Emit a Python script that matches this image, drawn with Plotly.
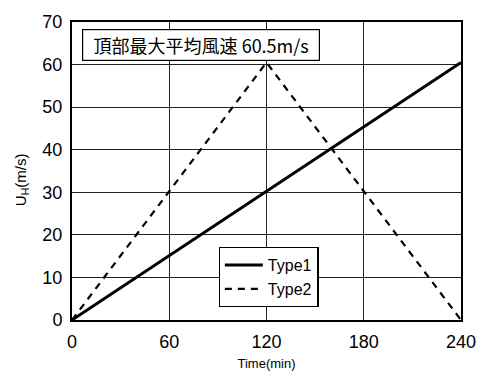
import plotly.graph_objects as go

# Wind speed histories at the top of the building
time_min = [0, 60, 120, 180, 240]
type1_speed = [0, 15.125, 30.25, 45.375, 60.5]
type2_speed = [0, 30.25, 60.5, 30.25, 0]

x_ticks = [0, 60, 120, 180, 240]
y_ticks = [0, 10, 20, 30, 40, 50, 60, 70]

FONT = "Liberation Sans"

fig = go.Figure()
fig.add_trace(go.Scatter(
    x=time_min, y=type1_speed, mode="lines", name="Type1",
    line=dict(color="black", width=3),
))
fig.add_trace(go.Scatter(
    x=time_min, y=type2_speed, mode="lines", name="Type2",
    line=dict(color="black", width=2.2, dash="7px,6px"),
))

fig.update_layout(
    width=488, height=381,
    margin=dict(l=72, r=27, t=17, b=55),
    paper_bgcolor="white", plot_bgcolor="white",
    font=dict(family=FONT, color="black"),
    showlegend=True,
    legend=dict(
        x=0.377, y=0.245, xanchor="left", yanchor="top",
        bgcolor="white", bordercolor="black", borderwidth=1.2,
        font=dict(size=16, family=FONT),
        tracegroupgap=0, itemwidth=38,
    ),
    xaxis=dict(
        range=[0, 240], tickvals=x_ticks, ticks="",
        showgrid=True, gridcolor="#222", gridwidth=1,
        showline=True, linecolor="black", linewidth=2, mirror=True,
        tickfont=dict(size=18), ticklabelstandoff=4,
        zeroline=False,
        title=dict(text="Time(min)", font=dict(size=13), standoff=8),
    ),
    yaxis=dict(
        range=[0, 70], tickvals=y_ticks, ticks="",
        showgrid=True, gridcolor="#222", gridwidth=1,
        showline=True, linecolor="black", linewidth=2, mirror=True,
        tickfont=dict(size=18), ticklabelstandoff=4,
        zeroline=False,
    ),
    annotations=[
        dict(
            text="頂部最大平均風速 60.5m/s",
            xref="paper", yref="paper", x=0.0245, y=0.975,
            xanchor="left", yanchor="top", showarrow=False,
            font=dict(size=18, family="Noto Sans CJK JP", color="black"),
            bgcolor="white", bordercolor="black", borderwidth=1.2, borderpad=2,
            width=232,
        ),
        dict(
            text="U<sub>H</sub>(m/s)",
            xref="paper", yref="paper", x=-0.128, y=0.47,
            xanchor="center", yanchor="middle", showarrow=False,
            textangle=-90, font=dict(size=15, family=FONT, color="black"),
        ),
    ],
)

fig.write_html("out.html")
